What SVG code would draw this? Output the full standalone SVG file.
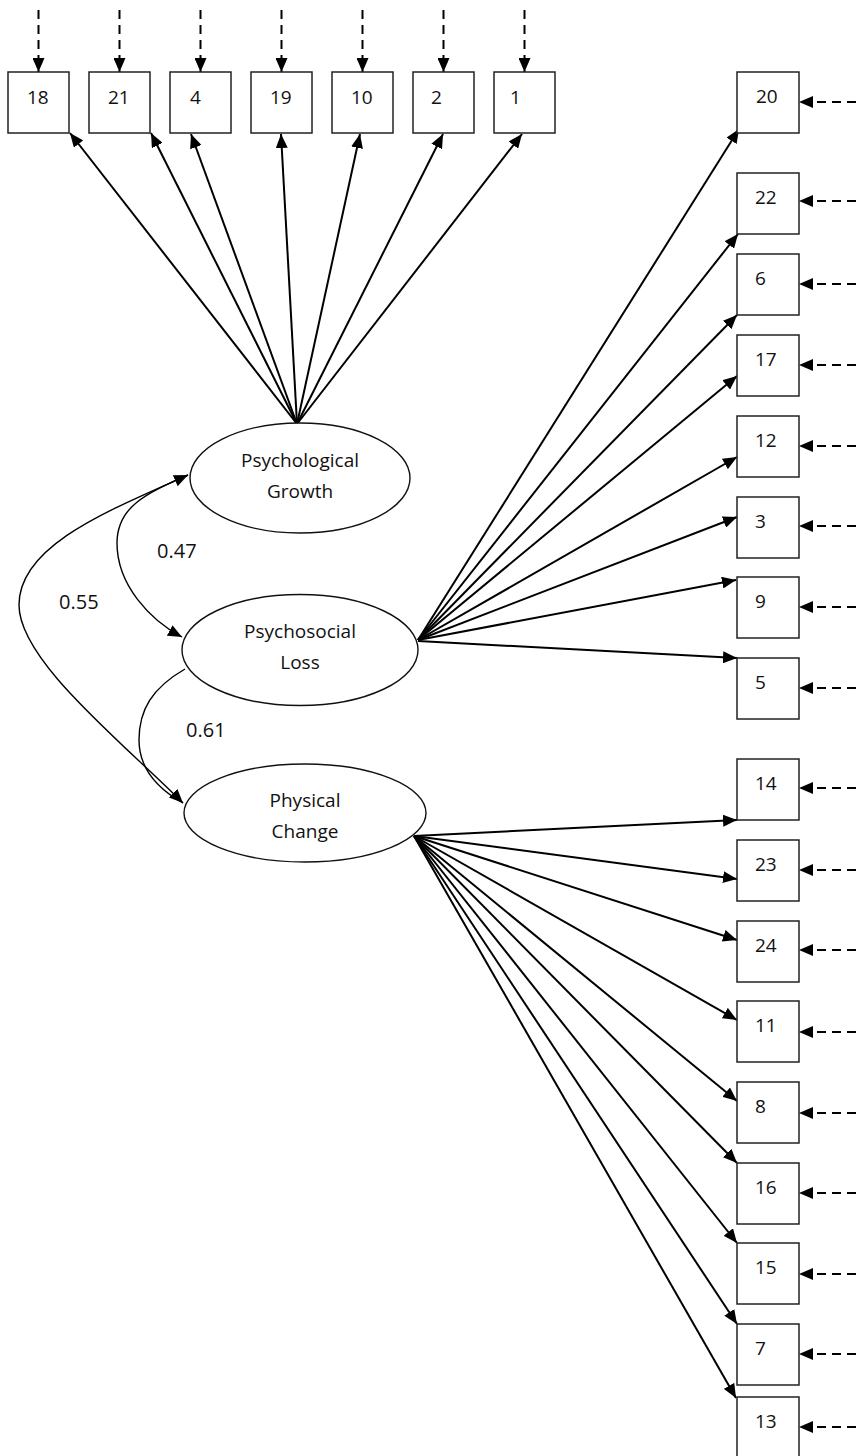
<svg xmlns="http://www.w3.org/2000/svg" width="856" height="1456" viewBox="0 0 856 1456">
<style>
.box{fill:#fff;stroke:#222;stroke-width:1.5}
.lat{fill:#fff;stroke:#111;stroke-width:1.4}
.t{font-family:"Open Sans","Noto Sans",sans-serif;font-size:19px;fill:#111}
.tc{font-family:"Open Sans","Noto Sans",sans-serif;font-size:19px;fill:#111;text-anchor:middle}
.num{font-family:"Open Sans","Noto Sans",sans-serif;font-size:20px;fill:#111}
.ld{stroke:#000;stroke-width:2;fill:none;marker-end:url(#ah)}
.err{stroke:#000;stroke-width:2;fill:none;stroke-dasharray:9 6;marker-end:url(#ah)}
.cov{stroke:#000;stroke-width:1.4;fill:none}
</style>
<defs>
<marker id="ah" markerUnits="userSpaceOnUse" markerWidth="14" markerHeight="12" refX="14" refY="6" orient="auto-start-reverse" viewBox="0 0 14 12">
<path d="M0,0 L14,6 L0,12 z" fill="#000"/>
</marker>
</defs>
<g id="connectors">
<line class="err" x1="38.5" y1="10" x2="38.5" y2="72"/>
<line class="err" x1="119.5" y1="10" x2="119.5" y2="72"/>
<line class="err" x1="200.5" y1="10" x2="200.5" y2="72"/>
<line class="err" x1="281.5" y1="10" x2="281.5" y2="72"/>
<line class="err" x1="362.5" y1="10" x2="362.5" y2="72"/>
<line class="err" x1="443.5" y1="10" x2="443.5" y2="72"/>
<line class="err" x1="524.5" y1="10" x2="524.5" y2="72"/>
<line class="err" x1="856" y1="102" x2="799" y2="102"/>
<line class="err" x1="856" y1="201" x2="799" y2="201"/>
<line class="err" x1="856" y1="284" x2="799" y2="284"/>
<line class="err" x1="856" y1="365" x2="799" y2="365"/>
<line class="err" x1="856" y1="446" x2="799" y2="446"/>
<line class="err" x1="856" y1="526" x2="799" y2="526"/>
<line class="err" x1="856" y1="607" x2="799" y2="607"/>
<line class="err" x1="856" y1="688" x2="799" y2="688"/>
<line class="err" x1="856" y1="788" x2="799" y2="788"/>
<line class="err" x1="856" y1="870" x2="799" y2="870"/>
<line class="err" x1="856" y1="950" x2="799" y2="950"/>
<line class="err" x1="856" y1="1032" x2="799" y2="1032"/>
<line class="err" x1="856" y1="1113" x2="799" y2="1113"/>
<line class="err" x1="856" y1="1193" x2="799" y2="1193"/>
<line class="err" x1="856" y1="1274" x2="799" y2="1274"/>
<line class="err" x1="856" y1="1354" x2="799" y2="1354"/>
<line class="err" x1="856" y1="1427" x2="799" y2="1427"/>
<line class="ld" x1="297" y1="424" x2="70" y2="133"/>
<line class="ld" x1="297" y1="424" x2="151" y2="133"/>
<line class="ld" x1="297" y1="424" x2="191" y2="134"/>
<line class="ld" x1="297" y1="424" x2="281" y2="134"/>
<line class="ld" x1="297" y1="424" x2="360" y2="134"/>
<line class="ld" x1="297" y1="424" x2="443" y2="134"/>
<line class="ld" x1="297" y1="424" x2="522" y2="134"/>
<line class="ld" x1="418" y1="640" x2="739" y2="129"/>
<line class="ld" x1="418" y1="640" x2="738" y2="234"/>
<line class="ld" x1="418" y1="640" x2="737" y2="315"/>
<line class="ld" x1="418" y1="640" x2="737" y2="376"/>
<line class="ld" x1="418" y1="640" x2="737" y2="457"/>
<line class="ld" x1="418" y1="640" x2="737" y2="517"/>
<line class="ld" x1="418" y1="640" x2="736" y2="580"/>
<line class="ld" x1="418" y1="641" x2="737" y2="658"/>
<line class="ld" x1="414" y1="836" x2="737" y2="820"/>
<line class="ld" x1="414" y1="836" x2="737" y2="879"/>
<line class="ld" x1="414" y1="836" x2="737" y2="940"/>
<line class="ld" x1="414" y1="836" x2="737" y2="1020"/>
<line class="ld" x1="414" y1="836" x2="737" y2="1101"/>
<line class="ld" x1="414" y1="836" x2="737" y2="1163"/>
<line class="ld" x1="414" y1="836" x2="737" y2="1243"/>
<line class="ld" x1="414" y1="836" x2="737" y2="1324"/>
<line class="ld" x1="414" y1="836" x2="736" y2="1398"/>
<path class="cov" d="M188,475 C110,510 19,545 19,605 C19,660 120,740 183,803" marker-start="url(#ah)" marker-end="url(#ah)"/>
<path class="cov" d="M188,475 C150,492 117,505 117,543 C117,585 150,620 182,637" marker-end="url(#ah)"/>
<path class="cov" d="M185,669 C152,688 139,710 139,740 C139,770 160,790 183,803"/>
</g>
<g id="labels">
<text class="num" x="157" y="558">0.47</text>
<text class="num" x="59" y="609">0.55</text>
<text class="num" x="186" y="737">0.61</text>
</g>
<g id="PG"><ellipse class="lat" cx="300" cy="478" rx="110" ry="55"/><text class="tc" x="300" y="467">Psychological</text><text class="tc" x="300" y="498">Growth</text></g>
<g id="PL"><ellipse class="lat" cx="300" cy="650" rx="118" ry="55.5"/><text class="tc" x="300" y="638">Psychosocial</text><text class="tc" x="300" y="669">Loss</text></g>
<g id="PC"><ellipse class="lat" cx="305" cy="813" rx="121" ry="49"/><text class="tc" x="305" y="807">Physical</text><text class="tc" x="305" y="838">Change</text></g>
<g id="v18"><rect class="box" x="8" y="72" width="61" height="61"/><text class="t" x="27" y="104">18</text></g>
<g id="v21"><rect class="box" x="89" y="72" width="61" height="61"/><text class="t" x="108" y="104">21</text></g>
<g id="v4"><rect class="box" x="170" y="72" width="61" height="61"/><text class="t" x="190" y="104">4</text></g>
<g id="v19"><rect class="box" x="251" y="72" width="61" height="61"/><text class="t" x="270" y="104">19</text></g>
<g id="v10"><rect class="box" x="332" y="72" width="61" height="61"/><text class="t" x="351" y="104">10</text></g>
<g id="v2"><rect class="box" x="413" y="72" width="61" height="61"/><text class="t" x="431" y="104">2</text></g>
<g id="v1"><rect class="box" x="494" y="72" width="61" height="61"/><text class="t" x="510" y="104">1</text></g>
<g id="v20"><rect class="box" x="737" y="72" width="62" height="61"/><text class="t" x="756" y="103">20</text></g>
<g id="v22"><rect class="box" x="737" y="173" width="62" height="61"/><text class="t" x="755" y="204">22</text></g>
<g id="v6"><rect class="box" x="737" y="254" width="62" height="61"/><text class="t" x="755" y="285">6</text></g>
<g id="v17"><rect class="box" x="737" y="335" width="62" height="61"/><text class="t" x="755" y="366">17</text></g>
<g id="v12"><rect class="box" x="737" y="416" width="62" height="61"/><text class="t" x="755" y="447">12</text></g>
<g id="v3"><rect class="box" x="737" y="497" width="62" height="61"/><text class="t" x="755" y="528">3</text></g>
<g id="v9"><rect class="box" x="737" y="577" width="62" height="61"/><text class="t" x="755" y="608">9</text></g>
<g id="v5"><rect class="box" x="737" y="658" width="62" height="61"/><text class="t" x="755" y="689">5</text></g>
<g id="v14"><rect class="box" x="737" y="759" width="62" height="61"/><text class="t" x="755" y="790">14</text></g>
<g id="v23"><rect class="box" x="737" y="840" width="62" height="61"/><text class="t" x="755" y="871">23</text></g>
<g id="v24"><rect class="box" x="737" y="921" width="62" height="61"/><text class="t" x="755" y="952">24</text></g>
<g id="v11"><rect class="box" x="737" y="1001" width="62" height="61"/><text class="t" x="755" y="1032">11</text></g>
<g id="v8"><rect class="box" x="737" y="1082" width="62" height="61"/><text class="t" x="755" y="1113">8</text></g>
<g id="v16"><rect class="box" x="737" y="1163" width="62" height="61"/><text class="t" x="755" y="1194">16</text></g>
<g id="v15"><rect class="box" x="737" y="1243" width="62" height="61"/><text class="t" x="755" y="1274">15</text></g>
<g id="v7"><rect class="box" x="737" y="1324" width="62" height="61"/><text class="t" x="755" y="1355">7</text></g>
<g id="v13"><rect class="box" x="737" y="1397" width="62" height="61"/><text class="t" x="755" y="1428">13</text></g>
</svg>
